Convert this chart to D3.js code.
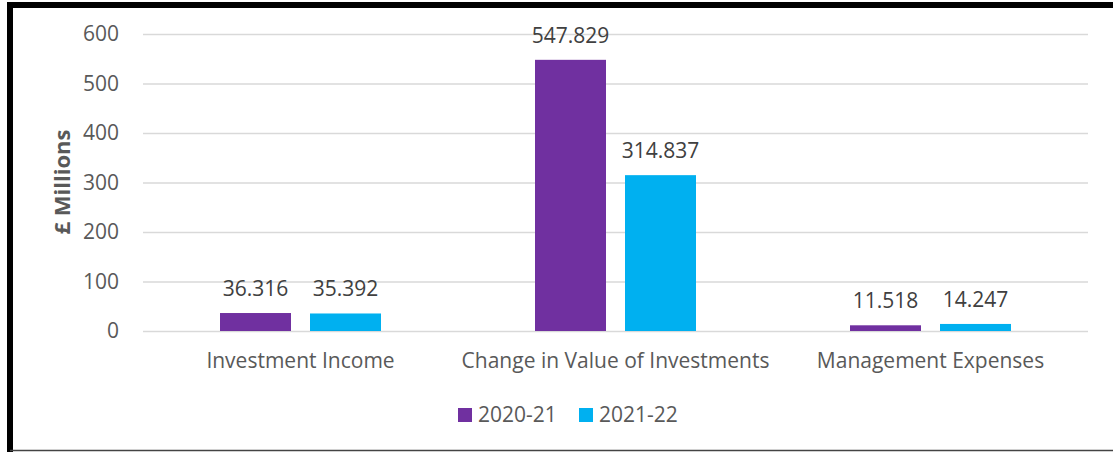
<!DOCTYPE html>
<html><head><meta charset="utf-8">
<script src="https://cdn.jsdelivr.net/npm/d3@7"></script>
<style>body{margin:0;background:#fff}text{font-family:"Open Sans",sans-serif}</style>
</head><body>
<svg id="c" width="1113" height="452"></svg>
<script>
const categories = ["Investment Income", "Change in Value of Investments", "Management Expenses"];
const seriesNames = ["2020-21", "2021-22"];
const values2020 = [36.316, 547.829, 11.518];
const values2021 = [35.392, 314.837, 14.247];
const labels2020 = ["36.316", "547.829", "11.518"];
const labels2021 = ["35.392", "314.837", "14.247"];
const yTicks = [0, 100, 200, 300, 400, 500, 600];
const colors = ["#7030A0", "#00B0F0"];

const svg = d3.select("#c");
// frame
svg.append("line").attr("x1",10).attr("x2",10).attr("y1",2).attr("y2",452).attr("stroke","#000").attr("stroke-width",6);
svg.append("line").attr("x1",7).attr("x2",1113).attr("y1",5).attr("y2",5).attr("stroke","#000").attr("stroke-width",6);
svg.append("line").attr("x1",10).attr("x2",1113).attr("y1",450.5).attr("y2",450.5).attr("stroke","#444").attr("stroke-width",1.5);

const x0 = d3.scaleBand().domain(categories).range([143,1088]);
const y = d3.scaleLinear().domain([0,600]).range([331,34]);
const x1 = d3.scaleBand().domain(seriesNames).range([0,161]).paddingInner(19/90);

const gy = svg.append("g").attr("transform","translate(143,0)")
  .call(d3.axisLeft(y).tickValues(yTicks).tickSize(-945).tickFormat(d3.format("d")).tickPadding(24));
gy.select(".domain").remove();
gy.selectAll(".tick line").attr("stroke","#D9D9D9").attr("stroke-width",1.5);
gy.selectAll(".tick text").attr("fill","#595959").style("font-size","21px");

const gx = svg.append("g").attr("transform","translate(0,331)")
  .call(d3.axisBottom(x0).tickSize(0).tickPadding(22));
gx.select(".domain").remove();
gx.selectAll(".tick text").attr("fill","#595959").style("font-size","21px");

const data = [values2020, values2021];
const labs = [labels2020, labels2021];
seriesNames.forEach((s,si)=>{
  const g = svg.append("g");
  categories.forEach((c,ci)=>{
    const bx = x0(c) + (x0.bandwidth()-161)/2 + x1(s);
    g.append("rect").attr("x",bx).attr("y",y(data[si][ci])).attr("width",x1.bandwidth())
      .attr("height",y(0)-y(data[si][ci])).attr("fill",colors[si]);
    g.append("text").attr("x",bx+x1.bandwidth()/2).attr("y",y(data[si][ci])-17)
      .attr("text-anchor","middle").attr("fill","#404040").style("font-size","21px").text(labs[si][ci]);
  });
});

svg.append("text").attr("transform","translate(70,182) rotate(-90)").attr("text-anchor","middle")
  .attr("fill","#595959").style("font-size","22px").style("font-weight","bold").text("£ Millions");

const lg = svg.append("g");
const lx = [458, 579];
seriesNames.forEach((s,i)=>{
  lg.append("rect").attr("x",lx[i]).attr("y",408).attr("width",14).attr("height",14).attr("fill",colors[i]);
  lg.append("text").attr("x",lx[i]+20).attr("y",422).attr("fill","#595959").style("font-size","21px").text(s);
});
</script>
</body></html>
